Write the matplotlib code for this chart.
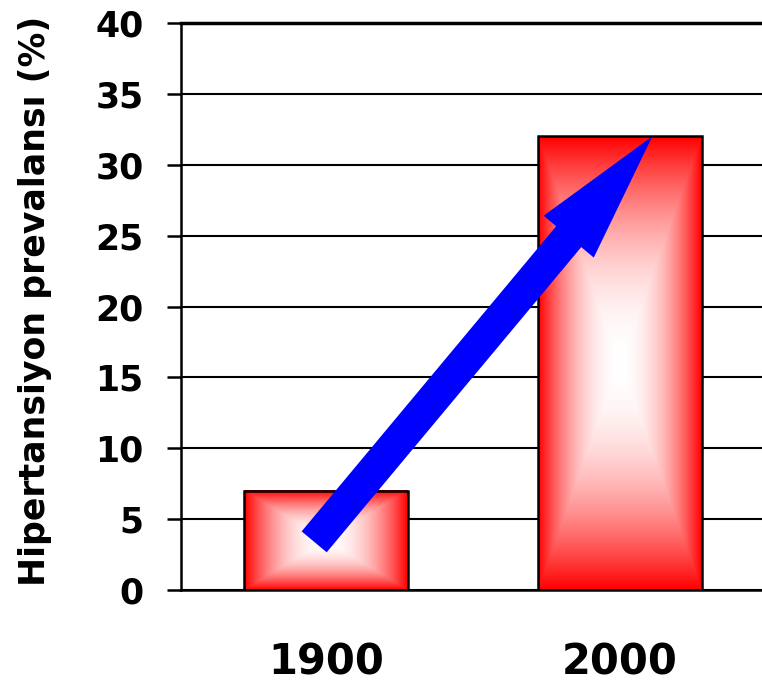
import numpy as np
import matplotlib
matplotlib.use("Agg")
import matplotlib.pyplot as plt
from matplotlib.patches import FancyArrowPatch

years = ["1900", "2000"]
prevalence = [7, 32]
yticks = [0, 5, 10, 15, 20, 25, 30, 35, 40]

fig = plt.figure(figsize=(7.62, 6.88), dpi=100)
ax = fig.add_axes([0.2375, 0.1424, 0.7625, 0.8242])

xpos = np.arange(len(years))
bar_w = 0.555
ax.set_xlim(-0.493, 1.483)
ax.set_ylim(0, 40)

# rectangular gradient: white in the middle, red towards the edges
def box_gradient(n=300):
    g = np.linspace(-1, 1, n)
    U, V = np.meshgrid(g, g)
    m = np.maximum(np.abs(U), np.abs(V))
    s = 1 - m ** 2
    img = np.zeros((n, n, 3))
    img[..., 0] = 1.0
    img[..., 1] = s
    img[..., 2] = s
    return img

grad = box_gradient()
for x, v in zip(xpos, prevalence):
    ax.imshow(grad, extent=[x - bar_w / 2, x + bar_w / 2, 0, v],
              aspect="auto", origin="lower", zorder=2, interpolation="bilinear")
ax.bar(xpos, prevalence, width=bar_w, facecolor="none", edgecolor="black",
       linewidth=1.8, zorder=3)
ax.set_xlim(-0.493, 1.483)
ax.set_ylim(0, 40)

# trend arrow from the 1900 bar to the top of the 2000 bar
arrow = FancyArrowPatch((xpos[0] - 0.04, 3.4), (xpos[1] + 0.11, prevalence[1]),
                        arrowstyle="simple,head_length=94,head_width=47,tail_width=23.5",
                        mutation_scale=1, color="#0000ff", linewidth=0,
                        shrinkA=0, shrinkB=0, zorder=4)
ax.add_patch(arrow)

ax.set_yticks(yticks)
ax.set_yticklabels([str(t) for t in yticks], fontsize=25, fontweight="bold")
ax.set_xticks(xpos)
ax.set_xticklabels(years, fontsize=30, fontweight="bold")
ax.tick_params(axis="y", length=10, width=1.8, pad=17, direction="out")
ax.tick_params(axis="x", length=0, pad=37)

ax.grid(axis="y", color="black", linewidth=1.5, zorder=1)
ax.set_axisbelow(True)
ax.spines["right"].set_visible(False)
ax.spines["top"].set_linewidth(2.5)
ax.spines["left"].set_linewidth(1.8)
ax.spines["bottom"].set_linewidth(1.8)

fig.text(0.046, 0.5625, "Hipertansiyon prevalansı (%)", rotation=90,
         ha="center", va="center", fontsize=25, fontweight="bold")

fig.savefig("out.png", dpi=100)
